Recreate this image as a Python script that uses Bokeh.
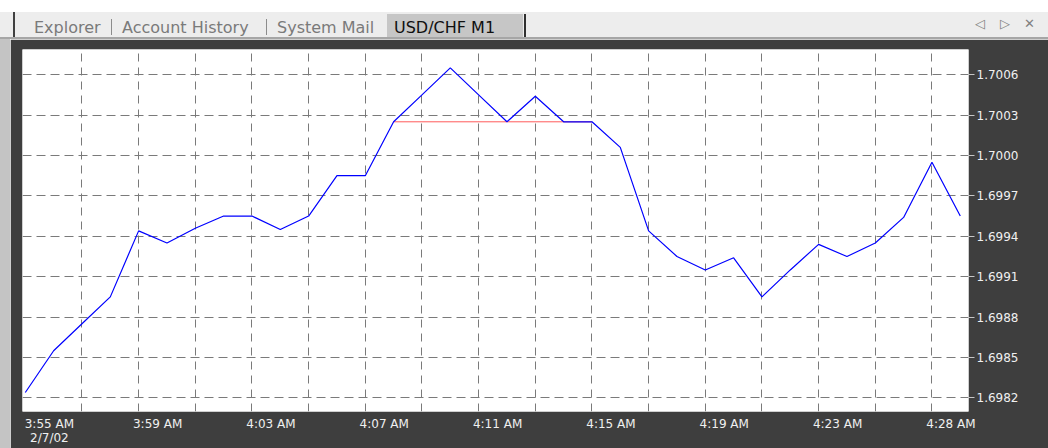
from bokeh.plotting import figure
from bokeh.models import Range1d, FixedTicker, Div
from bokeh.layouts import column, row
from bokeh.embed import file_html
from bokeh.resources import INLINE

# ---------------- data ----------------
close = [1.69824, 1.69855, 1.69875, 1.69895, 1.69944, 1.69935, 1.69946, 1.69955,
         1.69955, 1.69945, 1.69955, 1.69985, 1.69985, 1.70025, 1.70045, 1.70065,
         1.70045, 1.70025, 1.70044, 1.70025, 1.70025, 1.70006, 1.69944, 1.69925,
         1.69915, 1.69924, 1.69895, 1.69915, 1.69934, 1.69925, 1.69935, 1.69954,
         1.69995, 1.69955]
bars = list(range(len(close)))

level_bars = [13, 20]
level_price = [1.70025, 1.70025]

time_label_bars = [0, 4, 8, 12, 16, 20, 24, 28, 32]
time_labels = ["3:55 AM\n2/7/02", "3:59 AM", "4:03 AM", "4:07 AM", "4:11 AM",
               "4:15 AM", "4:19 AM", "4:23 AM", "4:28 AM"]
grid_bars = list(range(2, 33, 2))

price_labels = ["1.6982", "1.6985", "1.6988", "1.6991", "1.6994",
                "1.6997", "1.7000", "1.7003", "1.7006"]

tabs = ["Explorer", "Account History", "System Mail", "USD/CHF M1"]
active_tab = "USD/CHF M1"

# ---------------- styles ----------------
FONT = "DejaVu Sans"
W = 1048
DARK = "#3e3e3e"

# ---------------- tab bar (HTML) ----------------
tab_left = [34, 122, 277, 394]
sep_left = [111, 266]
parts = [
    '<div style="position:relative;width:%dpx;height:39px;background:#ffffff;'
    'overflow:hidden;font-family:\'%s\';">' % (W, FONT),
    '<div style="position:absolute;left:0;top:12px;width:%dpx;height:25px;background:#ededed;"></div>' % W,
    '<div style="position:absolute;left:0;top:37px;width:%dpx;height:2px;background:#a6a6a6;"></div>' % W,
    '<div style="position:absolute;left:13px;top:12px;width:2px;height:25px;background:#404040;"></div>',
    '<div style="position:absolute;left:387px;top:14px;width:136px;height:23px;background:#c6c6c6;"></div>',
    '<div style="position:absolute;left:524px;top:14px;width:2px;height:23px;background:#303030;"></div>',
]
for sx in sep_left:
    parts.append('<div style="position:absolute;left:%dpx;top:19px;width:1px;height:16px;'
                 'background:#8c8c8c;"></div>' % sx)
for name, lx in zip(tabs, tab_left):
    col = "#101010" if name == active_tab else "#7a7a7a"
    parts.append('<span style="position:absolute;left:%dpx;top:19.5px;font-size:16px;'
                 'line-height:16px;white-space:nowrap;color:%s;">%s</span>' % (lx, col, name))
for sym, lx in zip(["\u25c1", "\u25b7", "\u2715"], [975, 1000, 1024]):
    parts.append('<span style="position:absolute;left:%dpx;top:16.5px;font-size:13px;'
                 'line-height:13px;color:#808080;">%s</span>' % (lx, sym))
parts.append('</div>')
tab_bar = Div(text="".join(parts), width=W, height=39, margin=0)

left_strip = Div(text="", width=10, height=409, margin=0,
                 styles={"background-color": "#c4c4c4"})

# ---------------- main chart ----------------
p = figure(width=W - 10, height=409,
           x_range=Range1d(-0.099, 33.29),
           y_range=Range1d(1.6980988, 1.7007869),
           y_axis_location="right", toolbar_location=None, output_backend="svg",
           min_border_left=12, min_border_right=80, min_border_top=10,
           min_border_bottom=35, background_fill_color="white",
           border_fill_color=DARK, outline_line_color=None, margin=0)

price_ticks = [float(s) for s in price_labels]
p.yaxis.ticker = FixedTicker(ticks=price_ticks)
p.yaxis.major_label_overrides = {float(s): s for s in price_labels}
p.yaxis.axis_line_color = None
p.yaxis.major_tick_in = 0
p.yaxis.major_tick_out = 6
p.yaxis.major_tick_line_color = "#c8c8c8"
p.yaxis.minor_tick_line_color = None
p.yaxis.major_label_standoff = 2
p.yaxis.major_label_text_font = FONT
p.yaxis.major_label_text_font_size = "12px"
p.yaxis.major_label_text_color = "#f0f0f0"

label_pos = [b + (0.85 if k == 0 else 0.67) for k, b in enumerate(time_label_bars)]
p.xaxis.ticker = FixedTicker(ticks=label_pos)
p.xaxis.major_label_overrides = {pos: lab for pos, lab in zip(label_pos, time_labels)}
p.xaxis.axis_line_color = None
p.xaxis.major_tick_in = 0
p.xaxis.major_tick_out = 0
p.xaxis.minor_tick_line_color = None
p.xaxis.major_label_standoff = 5
p.xaxis.major_label_text_font = FONT
p.xaxis.major_label_text_font_size = "12px"
p.xaxis.major_label_text_color = "#f0f0f0"
p.xaxis.major_label_text_line_height = 1.05

p.xgrid.ticker = FixedTicker(ticks=grid_bars)
p.xgrid.grid_line_dash = "8 6"
p.ygrid.grid_line_dash = "9 5"
for g in (p.xgrid, p.ygrid):
    g.grid_line_color = "#7a7a7a"
    g.grid_line_width = 1

p.line(level_bars, level_price, line_color="#ff5a5a", line_width=1)
p.line(bars, close, line_color="#0000ff", line_width=1.2)

layout = column(tab_bar, row(left_strip, p, spacing=0, margin=0), spacing=0, margin=0)
with open("out.html", "w", encoding="utf-8") as f:
    f.write(file_html(layout, INLINE))
